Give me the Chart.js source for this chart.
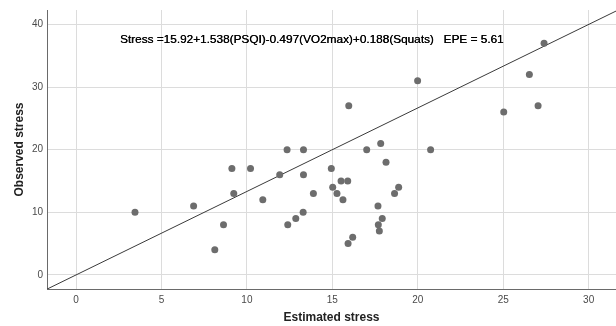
<!DOCTYPE html>
<html>
<head>
<meta charset="utf-8">
<script src="https://cdn.jsdelivr.net/npm/chart.js@4.4.1/dist/chart.umd.min.js"></script>
<style>
  html, body { margin: 0; padding: 0; background: #fff; }
  #wrap { width: 616px; height: 326px; position: relative; }
</style>
</head>
<body>
<div id="wrap"><canvas id="c" width="616" height="326"></canvas></div>
<script>
// Estimated stress (x) and observed stress (y)
const estimated = [3.45, 6.88, 8.12, 8.63, 9.12, 9.23, 10.21, 10.93, 11.92, 12.35,
                   12.39, 12.86, 13.29, 13.31, 13.31, 13.89, 14.94, 15.02, 15.27, 15.51,
                   15.62, 15.90, 15.92, 15.96, 16.19, 17.01, 17.67, 17.69, 17.75, 17.83,
                   17.92, 18.14, 18.64, 18.88, 19.99, 20.75, 25.03, 26.53, 27.04, 27.39];
const observed  = [10, 11, 4, 8, 17, 13, 17, 12, 16, 20,
                   8, 9, 10, 20, 16, 13, 17, 14, 13, 15,
                   12, 15, 5, 27, 6, 20, 11, 8, 7, 21,
                   9, 18, 13, 14, 31, 20, 26, 32, 27, 37];
// Reference (diagonal) line endpoints
const refLineX = [-1.7, 31.6];
const refLineY = [-2.27, 42.13];
// Axis ranges and ticks
const xRange = [-1.7, 31.6];
const yRange = [-2.25, 42.3];
const xTicks = [0, 5, 10, 15, 20, 25, 30];
const yTicks = [0, 10, 20, 30, 40];
// Labels
const xTitle = 'Estimated stress';
const yTitle = 'Observed stress';
const equationText = 'Stress =15.92+1.538(PSQI)-0.497(VO2max)+0.188(Squats)   EPE = 5.61';
const equationPos = [2.57, 37.5];

const points = estimated.map((x, i) => ({ x: x, y: observed[i] }));
const refLine = refLineX.map((x, i) => ({ x: x, y: refLineY[i] }));

const FONT = '"Liberation Sans", Arial, sans-serif';

const equationPlugin = {
  id: 'equation',
  afterDatasetsDraw(chart) {
    const ctx = chart.ctx;
    const xs = chart.scales.x, ys = chart.scales.y;
    ctx.save();
    ctx.font = '11.8px ' + FONT;
    ctx.fillStyle = '#000';
    ctx.textAlign = 'left';
    ctx.textBaseline = 'middle';
    const px = xs.getPixelForValue(equationPos[0]);
    const py = ys.getPixelForValue(equationPos[1]);
    ctx.fillText(equationText, px, py);
    ctx.fillText(equationText, px + 0.3, py);
    ctx.restore();
  }
};

new Chart(document.getElementById('c'), {
  data: {
    datasets: [
      {
        type: 'scatter',
        data: points,
        backgroundColor: '#6d6d6d',
        borderColor: '#6d6d6d',
        pointRadius: 3.5,
        pointHoverRadius: 3.5,
        borderWidth: 0
      },
      {
        type: 'line',
        data: refLine,
        borderColor: '#3a3a3a',
        borderWidth: 1,
        pointRadius: 0,
        fill: false,
        tension: 0
      }
    ]
  },
  options: {
    responsive: false,
    animation: false,
    events: [],
    layout: { autoPadding: false, padding: { top: 10, right: 0, left: 0, bottom: 0 } },
    plugins: { legend: { display: false }, tooltip: { enabled: false } },
    scales: {
      x: {
        type: 'linear',
        min: xRange[0],
        max: xRange[1],
        afterBuildTicks: (s) => { s.ticks = xTicks.map(v => ({ value: v })); },
        afterFit: (s) => { s.height = 37; s.paddingLeft = 0; s.paddingRight = 0; },
        grid: { color: '#dcdcdc', lineWidth: 1, drawTicks: false },
        border: { display: true, color: '#6a6a6a', width: 1 },
        ticks: { font: { family: FONT, size: 10 }, color: '#4a4a4a', padding: 5, maxRotation: 0 },
        title: { display: true, text: xTitle, font: { family: FONT, size: 12, weight: 'bold' }, color: '#222', padding: { top: 0, bottom: 1 } }
      },
      y: {
        type: 'linear',
        min: yRange[0],
        max: yRange[1],
        afterBuildTicks: (s) => { s.ticks = yTicks.map(v => ({ value: v })); },
        afterFit: (s) => { s.width = 47; s.paddingTop = 0; s.paddingBottom = 0; },
        grid: { color: '#dcdcdc', lineWidth: 1, drawTicks: false },
        border: { display: true, color: '#6a6a6a', width: 1 },
        ticks: { font: { family: FONT, size: 10 }, color: '#4a4a4a', padding: 4 },
        title: { display: true, text: yTitle, font: { family: FONT, size: 12, weight: 'bold' }, color: '#222', padding: { top: 12, bottom: 0 } }
      }
    }
  },
  plugins: [equationPlugin]
});
</script>
</body>
</html>
